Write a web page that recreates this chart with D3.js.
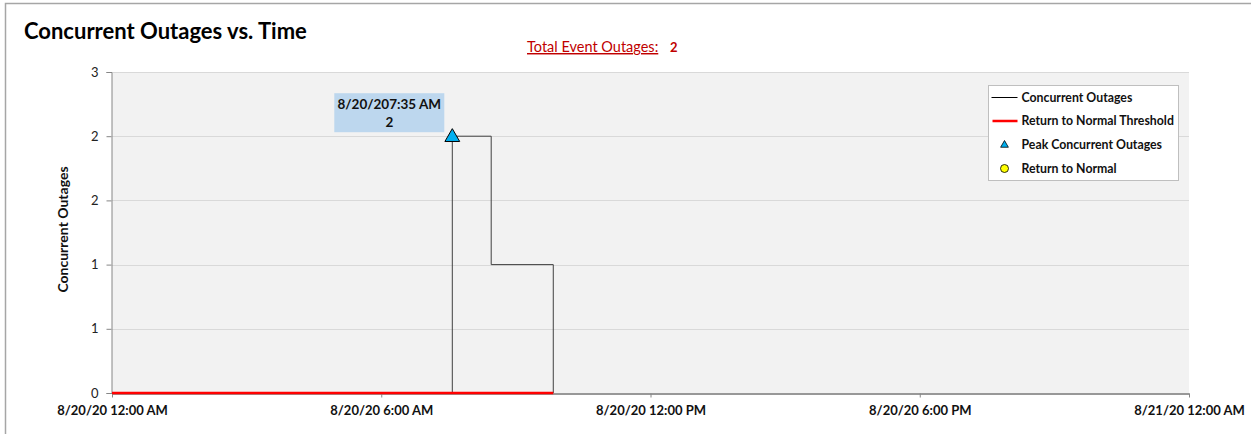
<!DOCTYPE html>
<html>
<head>
<meta charset="utf-8">
<script src="https://cdn.jsdelivr.net/npm/d3@7/dist/d3.min.js"></script>
<style>
  html, body { margin: 0; padding: 0; background: #fff; }
  svg { display: block; font-family: Lato, "Open Sans", sans-serif; }
</style>
</head>
<body>
<svg id="chart" width="1251" height="434"></svg>
<script>
// Concurrent outage counts (step series) over one day
const outageTimes  = ["2020-08-20T00:00", "2020-08-20T07:35", "2020-08-20T08:27", "2020-08-20T09:50"];
const outageCounts = [0, 2, 1, 0];

// Return-to-normal threshold line
const thresholdTimes  = ["2020-08-20T00:00", "2020-08-20T09:50"];
const thresholdValues = [0, 0];

// Peak marker
const peakTime  = "2020-08-20T07:35";
const peakValue = 2;

const totalEventOutages = 2;

// Axis ticks
const xTickTimes  = ["2020-08-20T00:00", "2020-08-20T06:00", "2020-08-20T12:00", "2020-08-20T18:00", "2020-08-21T00:00"];
const yTickValues = [0, 0.5, 1, 1.5, 2, 2.5];
const yTickLabels = ["0", "1", "1", "2", "2", "3"];

const legendLabels = ["Concurrent Outages", "Return to Normal Threshold", "Peak Concurrent Outages", "Return to Normal"];

const parse = d3.timeParse("%Y-%m-%dT%H:%M");
const fmtDate = d3.timeFormat("%-m/%-d/%y %-I:%M %p");

const svg = d3.select("#chart");
const W = 1251, H = 434;
const plot = { left: 112, right: 1189, top: 72, bottom: 393 };

// Outer frame
svg.append("rect").attr("x", 5.5).attr("y", 3.5).attr("width", W + 10).attr("height", H + 10)
  .attr("fill", "#fff").attr("stroke", "#a6a6a6").attr("stroke-width", 1.5);

const x = d3.scaleTime()
  .domain([parse(xTickTimes[0]), parse(xTickTimes[xTickTimes.length - 1])])
  .range([plot.left, plot.right]);
const y = d3.scaleLinear().domain([0, 2.5]).range([plot.bottom, plot.top]);

// Plot background
svg.append("rect")
  .attr("x", plot.left).attr("y", plot.top)
  .attr("width", plot.right - plot.left).attr("height", plot.bottom - plot.top)
  .attr("fill", "#f2f2f2");

// Gridlines
svg.append("g").selectAll("line").data(yTickValues.slice(1)).join("line")
  .attr("x1", plot.left).attr("x2", plot.right)
  .attr("y1", d => Math.round(y(d)) + 0.5).attr("y2", d => Math.round(y(d)) + 0.5)
  .attr("stroke", "#d9d9d9").attr("stroke-width", 1);

// Y axis
const yAxis = d3.axisLeft(y).tickValues(yTickValues)
  .tickFormat((d, i) => yTickLabels[i]).tickSize(5).tickPadding(8);
const gy = svg.append("g").attr("transform", `translate(${plot.left - 0.5},0)`).call(yAxis);
gy.select(".domain").attr("stroke", "#868686");
gy.selectAll(".tick line").attr("stroke", "#868686");
gy.selectAll(".tick text").attr("font-size", 13).attr("fill", "#222")
  .attr("font-family", "Lato, sans-serif");

// X axis
const xAxis = d3.axisBottom(x).tickValues(xTickTimes.map(parse))
  .tickFormat(fmtDate).tickSize(4).tickPadding(8).tickSizeOuter(0);
const gx = svg.append("g").attr("transform", `translate(0,${plot.bottom + 0.5})`).call(xAxis);
gx.select(".domain").attr("stroke", "#333").attr("stroke-width", 1.2);
gx.selectAll(".tick line").attr("stroke", "#868686");
gx.selectAll(".tick text").attr("font-size", 13).attr("font-weight", "bold").attr("fill", "#111")
  .attr("font-family", "Lato, sans-serif");

// Concurrent outages step line
const outageData = outageTimes.map((t, i) => ({ t: parse(t), v: outageCounts[i] }));
const stepLine = d3.line().x(d => x(d.t)).y(d => y(d.v)).curve(d3.curveStepAfter);
svg.append("path").datum(outageData)
  .attr("d", stepLine).attr("fill", "none").attr("stroke", "#404040").attr("stroke-width", 1);

// Threshold line
const thresholdData = thresholdTimes.map((t, i) => ({ t: parse(t), v: thresholdValues[i] }));
svg.append("path").datum(thresholdData)
  .attr("d", d3.line().x(d => x(d.t)).y(d => y(d.v)))
  .attr("fill", "none").attr("stroke", "#ff0000").attr("stroke-width", 2.5);

// Peak marker
const px = x(parse(peakTime)), py = y(peakValue);
const tri = d3.symbol().type(d3.symbolTriangle).size(95);
svg.append("path").attr("d", tri()).attr("transform", `translate(${px},${py + 1})`)
  .attr("fill", "#00b0f0").attr("stroke", "#000").attr("stroke-width", 1);

// Peak callout
const callout = svg.append("g");
callout.append("rect").attr("x", px - 118).attr("y", py - 43).attr("width", 110).attr("height", 39)
  .attr("fill", "#bdd7ee");
callout.append("text").attr("x", px - 63).attr("y", py - 27).attr("text-anchor", "middle")
  .attr("font-size", 13.5).attr("font-weight", "bold").attr("fill", "#111")
  .text(fmtDate(parse(peakTime)).replace(" ", ""));
callout.append("text").attr("x", px - 63).attr("y", py - 9).attr("text-anchor", "middle")
  .attr("font-size", 13.5).attr("font-weight", "bold").attr("fill", "#111")
  .text(peakValue);

// Title
svg.append("text").attr("x", 24).attr("y", 39)
  .attr("font-size", 22).attr("font-weight", "bold").attr("fill", "#000")
  .text("Concurrent Outages vs. Time");

// Total event outages
svg.append("text").attr("x", 527).attr("y", 52)
  .attr("font-size", 14.5).attr("fill", "#c00000").attr("text-decoration", "underline")
  .text("Total Event Outages:");
svg.append("text").attr("x", 670).attr("y", 52)
  .attr("font-size", 13).attr("font-weight", "bold").attr("fill", "#c00000")
  .text(totalEventOutages);

// Y axis title
svg.append("text").attr("transform", `translate(68,${(plot.top + plot.bottom) / 2 - 3}) rotate(-90)`)
  .attr("text-anchor", "middle").attr("font-size", 14).attr("font-weight", "bold").attr("fill", "#111")
  .text("Concurrent Outages");

// Legend
const lg = svg.append("g").attr("transform", "translate(988.5,85.5)");
lg.append("rect").attr("width", 190).attr("height", 95)
  .attr("fill", "#fff").attr("stroke", "#bfbfbf").attr("stroke-width", 1);
const rows = [12, 35.5, 59, 83];
legendLabels.forEach((lab, i) => {
  const g = lg.append("g").attr("transform", `translate(0,${rows[i]})`);
  if (i === 0) g.append("line").attr("x1", 3).attr("x2", 29).attr("stroke", "#000").attr("stroke-width", 1);
  if (i === 1) g.append("line").attr("x1", 4).attr("x2", 29).attr("stroke", "#ff0000").attr("stroke-width", 2.5);
  if (i === 2) g.append("path").attr("d", d3.symbol().type(d3.symbolTriangle).size(26)())
    .attr("transform", "translate(16,0.5)").attr("fill", "#00b0f0").attr("stroke", "#000").attr("stroke-width", 0.8);
  if (i === 3) g.append("circle").attr("cx", 16).attr("cy", 0).attr("r", 4)
    .attr("fill", "#ffff00").attr("stroke", "#000").attr("stroke-width", 0.8);
  g.append("text").attr("x", 33).attr("y", 4).attr("font-size", 12.3).attr("font-weight", "bold")
    .attr("fill", "#111").text(lab);
});
</script>
</body>
</html>
